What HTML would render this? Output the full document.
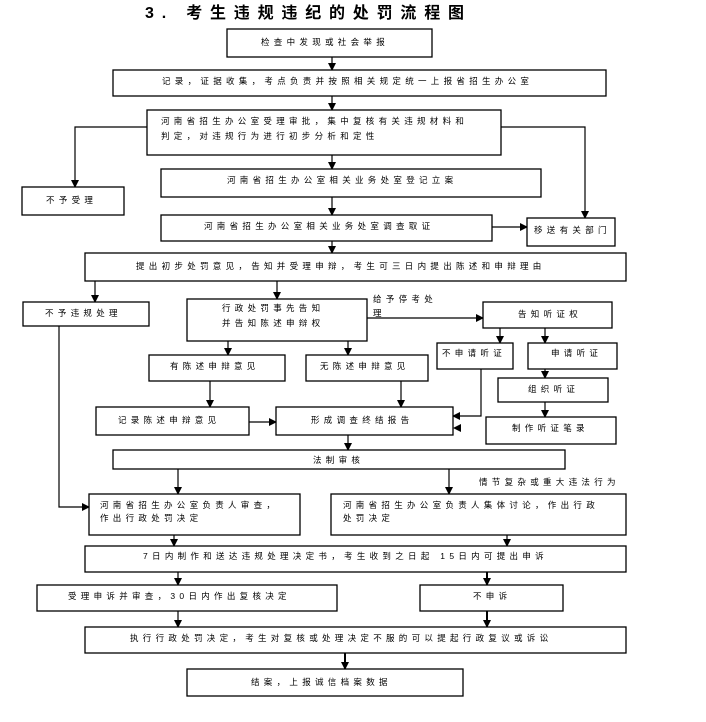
<!DOCTYPE html>
<html><head><meta charset="utf-8"><style>
html,body{margin:0;padding:0;background:#fff;}
svg{display:block;}
text{font-family:"Liberation Sans","Noto Sans CJK SC",sans-serif;font-size:8.5px;letter-spacing:4.3px;fill:#000;}
.t{font-size:16px;font-weight:bold;letter-spacing:7.8px;}
rect{fill:#fff;stroke:#000;stroke-width:1.3;}
line,polyline{stroke:#000;stroke-width:1.2;fill:none;}
</style></head><body>
<svg width="706" height="722" viewBox="0 0 706 722" xmlns="http://www.w3.org/2000/svg">
<defs><marker id="a" markerWidth="8" markerHeight="8" refX="7" refY="4" orient="auto" markerUnits="userSpaceOnUse"><path d="M0,0 L8,4 L0,8 z" fill="#000"/></marker></defs>
<text class="t" x="145" y="18">3. 考生违规违纪的处罚流程图</text>

<!-- connectors -->
<line x1="332" y1="57" x2="332" y2="70" marker-end="url(#a)"/>
<line x1="332" y1="96" x2="332" y2="110" marker-end="url(#a)"/>
<line x1="332" y1="155" x2="332" y2="169" marker-end="url(#a)"/>
<line x1="332" y1="197" x2="332" y2="215" marker-end="url(#a)"/>
<line x1="332" y1="241" x2="332" y2="253" marker-end="url(#a)"/>
<polyline points="147,127 75,127 75,187" marker-end="url(#a)"/>
<polyline points="501,127 585,127 585,218" marker-end="url(#a)"/>
<line x1="492" y1="227" x2="527" y2="227" marker-end="url(#a)"/>
<line x1="95" y1="281" x2="95" y2="302" marker-end="url(#a)"/>
<line x1="277" y1="281" x2="277" y2="299" marker-end="url(#a)"/>
<line x1="367" y1="318" x2="483" y2="318" marker-end="url(#a)"/>
<line x1="228" y1="341" x2="228" y2="355" marker-end="url(#a)"/>
<line x1="348" y1="341" x2="348" y2="355" marker-end="url(#a)"/>
<line x1="500" y1="328" x2="500" y2="343" marker-end="url(#a)"/>
<line x1="545" y1="328" x2="545" y2="343" marker-end="url(#a)"/>
<line x1="545" y1="369" x2="545" y2="378" marker-end="url(#a)"/>
<line x1="545" y1="402" x2="545" y2="417" marker-end="url(#a)"/>
<line x1="210" y1="381" x2="210" y2="407" marker-end="url(#a)"/>
<line x1="401" y1="381" x2="401" y2="407" marker-end="url(#a)"/>
<line x1="249" y1="422" x2="276" y2="422" marker-end="url(#a)"/>
<polyline points="481,369 481,416 453,416" marker-end="url(#a)"/>
<path d="M453,428 L461,424 L461,432 z" fill="#000"/>
<line x1="348" y1="435" x2="348" y2="450" marker-end="url(#a)"/>
<line x1="178" y1="469" x2="178" y2="494" marker-end="url(#a)"/>
<line x1="449" y1="469" x2="449" y2="494" marker-end="url(#a)"/>
<polyline points="59,326 59,507 89,507" marker-end="url(#a)"/>
<line x1="174" y1="535" x2="174" y2="546" marker-end="url(#a)"/>
<line x1="507" y1="535" x2="507" y2="546" marker-end="url(#a)"/>
<line x1="178" y1="572" x2="178" y2="585" marker-end="url(#a)"/>
<line x1="487" y1="572" x2="487" y2="585" marker-end="url(#a)" style="stroke-width:2"/>
<line x1="178" y1="611" x2="178" y2="627" marker-end="url(#a)"/>
<line x1="487" y1="611" x2="487" y2="627" marker-end="url(#a)" style="stroke-width:2"/>
<line x1="345" y1="653" x2="345" y2="669" marker-end="url(#a)" style="stroke-width:2"/>

<!-- boxes -->
<rect x="227" y="29" width="205" height="28"/>
<rect x="113" y="70" width="493" height="26"/>
<rect x="147" y="110" width="354" height="45"/>
<rect x="22" y="187" width="102" height="28"/>
<rect x="161" y="169" width="380" height="28"/>
<rect x="161" y="215" width="331" height="26"/>
<rect x="527" y="218" width="88" height="28"/>
<rect x="85" y="253" width="541" height="28"/>
<rect x="23" y="302" width="126" height="24"/>
<rect x="187" y="299" width="180" height="42"/>
<rect x="483" y="302" width="129" height="26"/>
<rect x="437" y="343" width="76" height="26"/>
<rect x="528" y="343" width="89" height="26"/>
<rect x="149" y="355" width="136" height="26"/>
<rect x="306" y="355" width="122" height="26"/>
<rect x="498" y="378" width="110" height="24"/>
<rect x="96" y="407" width="153" height="28"/>
<rect x="276" y="407" width="177" height="28"/>
<rect x="486" y="417" width="130" height="27"/>
<rect x="113" y="450" width="452" height="19"/>
<rect x="89" y="494" width="211" height="41"/>
<rect x="331" y="494" width="295" height="41"/>
<rect x="85" y="546" width="541" height="26"/>
<rect x="37" y="585" width="300" height="26"/>
<rect x="420" y="585" width="143" height="26"/>
<rect x="85" y="627" width="541" height="26"/>
<rect x="187" y="669" width="276" height="27"/>

<!-- labels -->
<text x="261" y="45">检查中发现或社会举报</text>
<text x="162" y="84">记录，证据收集，考点负责并按照相关规定统一上报省招生办公室</text>
<text x="161" y="124">河南省招生办公室受理审批，集中复核有关违规材料和</text>
<text x="161" y="139">判定，对违规行为进行初步分析和定性</text>
<text x="46" y="203">不予受理</text>
<text x="227" y="183">河南省招生办公室相关业务处室登记立案</text>
<text x="204" y="229">河南省招生办公室相关业务处室调查取证</text>
<text x="534" y="233">移送有关部门</text>
<text x="136" y="269">提出初步处罚意见，告知并受理申辩，考生可三日内提出陈述和申辩理由</text>
<text x="45" y="316">不予违规处理</text>
<text x="222" y="311">行政处罚事先告知</text>
<text x="222" y="326">并告知陈述申辩权</text>
<text x="373" y="302">给予停考处</text>
<text x="373" y="316">理</text>
<text x="518" y="317">告知听证权</text>
<text x="442" y="356">不申请听证</text>
<text x="551" y="356">申请听证</text>
<text x="170" y="369">有陈述申辩意见</text>
<text x="320" y="369">无陈述申辩意见</text>
<text x="528" y="392">组织听证</text>
<text x="118" y="423">记录陈述申辩意见</text>
<text x="311" y="423">形成调查终结报告</text>
<text x="512" y="431">制作听证笔录</text>
<text x="313" y="463">法制审核</text>
<text x="479" y="485">情节复杂或重大违法行为</text>
<text x="100" y="508">河南省招生办公室负责人审查，</text>
<text x="100" y="521">作出行政处罚决定</text>
<text x="343" y="508">河南省招生办公室负责人集体讨论，作出行政</text>
<text x="343" y="521">处罚决定</text>
<text x="143" y="559">7日内制作和送达违规处理决定书，考生收到之日起 15日内可提出申诉</text>
<text x="68" y="599">受理申诉并审查，30日内作出复核决定</text>
<text x="473" y="599">不申诉</text>
<text x="130" y="641">执行行政处罚决定，考生对复核或处理决定不服的可以提起行政复议或诉讼</text>
<text x="251" y="685">结案，上报诚信档案数据</text>
</svg>
</body></html>
